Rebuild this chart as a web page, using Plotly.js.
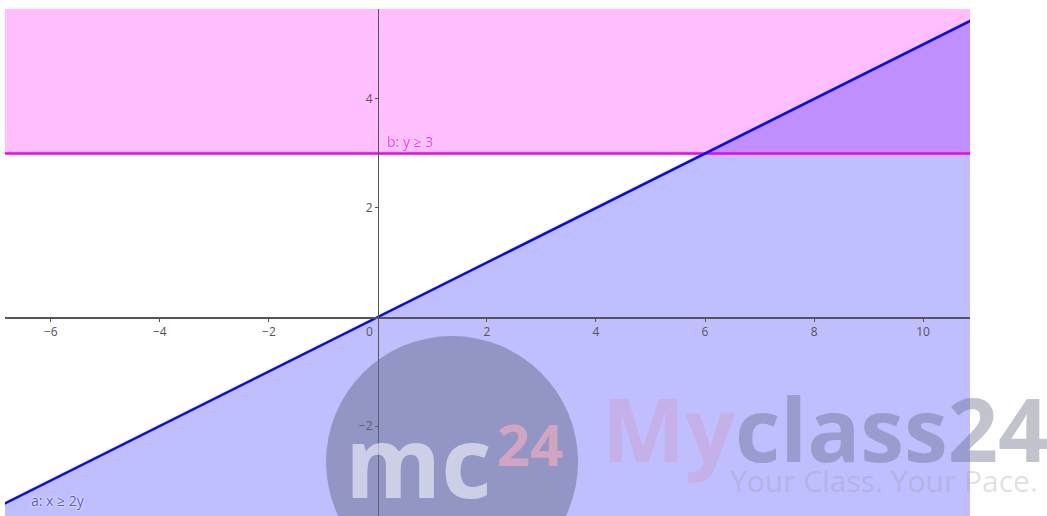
<!DOCTYPE html>
<html>
<head>
<meta charset="utf-8">
<script src="https://cdn.plot.ly/plotly-3.0.1.min.js"></script>
<style>
  html, body { margin: 0; padding: 0; background: #fff; }
  #chart { width: 1047px; height: 516px; }
</style>
</head>
<body>
<div id="chart"></div>
<script>
// visible window of the graphing view
const xRange = [-6.84, 10.86];
const yRange = [-3.65, 5.65];

// a: x >= 2y  (boundary line x = 2y and the shaded half-plane under it)
const lineAx = [-8, 0, 6, 12];
const lineAy = [-4, 0, 3, 6];
const regionAx = [-8, 12, 12, -8];
const regionAy = [-4, 6, -5, -5];

// b: y >= 3  (boundary line y = 3 and the shaded half-plane above it)
const lineBx = [-8, 12];
const lineBy = [3, 3];
const regionBx = [-8, 12, 12, -8];
const regionBy = [3, 3, 7, 7];

// tick labels
const xTicks = [-6, -4, -2, 2, 4, 6, 8, 10];
const yTicks = [-2, 2, 4];

const tickFont = { family: 'Open Sans, DejaVu Sans, sans-serif', size: 12, color: '#555' };

const data = [
  {
    x: regionBx, y: regionBy, type: 'scatter', mode: 'lines',
    fill: 'toself', fillcolor: 'rgba(255,0,255,0.25)',
    line: { width: 0 }, hoverinfo: 'skip', showlegend: false
  },
  {
    x: regionAx, y: regionAy, type: 'scatter', mode: 'lines',
    fill: 'toself', fillcolor: 'rgba(0,0,255,0.25)',
    line: { width: 0 }, hoverinfo: 'skip', showlegend: false
  },
  {
    x: lineBx, y: lineBy, type: 'scatter', mode: 'lines',
    line: { color: 'rgb(240,0,240)', width: 2.5 }, showlegend: false
  },
  {
    x: lineAx, y: lineAy, type: 'scatter', mode: 'lines',
    line: { color: 'rgb(10,10,240)', width: 2.5 }, showlegend: false
  }
];

// axes cross at the origin
const xPos = (0 - yRange[0]) / (yRange[1] - yRange[0]);
const yPos = (0 - xRange[0]) / (xRange[1] - xRange[0]);

const layout = {
  width: 1047,
  height: 516,
  margin: { l: 5, r: 77, t: 9, b: 0 },
  paper_bgcolor: '#fff',
  plot_bgcolor: '#fff',
  showlegend: false,
  xaxis: {
    range: xRange,
    anchor: 'free',
    position: xPos,
    showgrid: false,
    zeroline: false,
    showline: true,
    linecolor: '#555',
    linewidth: 1.5,
    ticks: 'outside',
    ticklen: 3,
    tickcolor: '#555',
    tickvals: xTicks,
    tickfont: tickFont
  },
  yaxis: {
    range: yRange,
    anchor: 'free',
    position: yPos,
    showgrid: false,
    zeroline: false,
    showline: true,
    linecolor: '#555',
    linewidth: 1.5,
    ticks: 'outside',
    ticklen: 3,
    tickcolor: '#555',
    tickvals: yTicks,
    tickfont: tickFont
  },
  shapes: [
    // watermark disc
    {
      type: 'circle', layer: 'above',
      xref: 'x', yref: 'y',
      xsizemode: 'pixel', ysizemode: 'pixel',
      xanchor: 1.36, yanchor: -2.66,
      x0: -126, x1: 126, y0: -126, y1: 126,
      fillcolor: 'rgba(100,110,140,0.5)',
      line: { width: 0 }
    }
  ],
  annotations: [
    {
      x: 0, y: 0, xref: 'x', yref: 'y', text: '0', showarrow: false,
      xanchor: 'right', yanchor: 'top', xshift: -3, yshift: -4,
      font: tickFont
    },
    {
      x: 0.13, y: 3, xref: 'x', yref: 'y', text: 'b: y ≥ 3', showarrow: false,
      xanchor: 'left', yanchor: 'bottom', yshift: 0,
      font: { family: 'Open Sans, DejaVu Sans, sans-serif', size: 14, color: 'rgb(255,40,255)', shadow: '0 0 2px #fff, 0 0 2px #fff' }
    },
    {
      x: -6.4, y: -3.36, xref: 'x', yref: 'y', text: 'a: x ≥ 2y', showarrow: false,
      xanchor: 'left', yanchor: 'middle',
      font: { family: 'Open Sans, DejaVu Sans, sans-serif', size: 14, color: 'rgb(80,80,235)', shadow: '0 0 2px #fff, 0 0 2px #fff' }
    },
    // watermark text
    {
      x: 343, y: 460, xref: 'paper', yref: 'paper', text: 'mc', showarrow: false,
      font: { family: 'Open Sans, sans-serif', size: 98, weight: 700, color: 'rgba(255,255,255,0.55)' }
    },
    {
      x: 495, y: 443, xref: 'paper', yref: 'paper', text: '24', showarrow: false,
      font: { family: 'Open Sans, sans-serif', size: 58, weight: 700, color: 'rgba(240,170,190,0.7)' }
    },
    {
      x: 600, y: 428, xref: 'paper', yref: 'paper',
      text: '<span style="color:rgba(230,110,130,0.45)">My</span>class24', showarrow: false,
      font: { family: 'Open Sans, sans-serif', size: 88, weight: 700, color: 'rgba(100,105,130,0.4)' }
    },
    {
      x: 728, y: 480, xref: 'paper', yref: 'paper', text: 'Your Class. Your Pace.', showarrow: false,
      font: { family: 'Open Sans, sans-serif', size: 30, color: 'rgba(150,150,160,0.3)' }
    }
  ]
};

// convert the watermark pixel positions to paper fractions
const plotW = layout.width - layout.margin.l - layout.margin.r;
const plotH = layout.height - layout.margin.t - layout.margin.b;
layout.annotations.forEach(a => {
  if (a.xref === 'paper') {
    a.x = (a.x - layout.margin.l) / plotW;
    a.y = 1 - (a.y - layout.margin.t) / plotH;
    a.xanchor = a.xanchor || 'left';
    a.yanchor = a.yanchor || 'middle';
  }
});

Plotly.newPlot('chart', data, layout, { displayModeBar: false, staticPlot: true });
</script>
</body>
</html>
